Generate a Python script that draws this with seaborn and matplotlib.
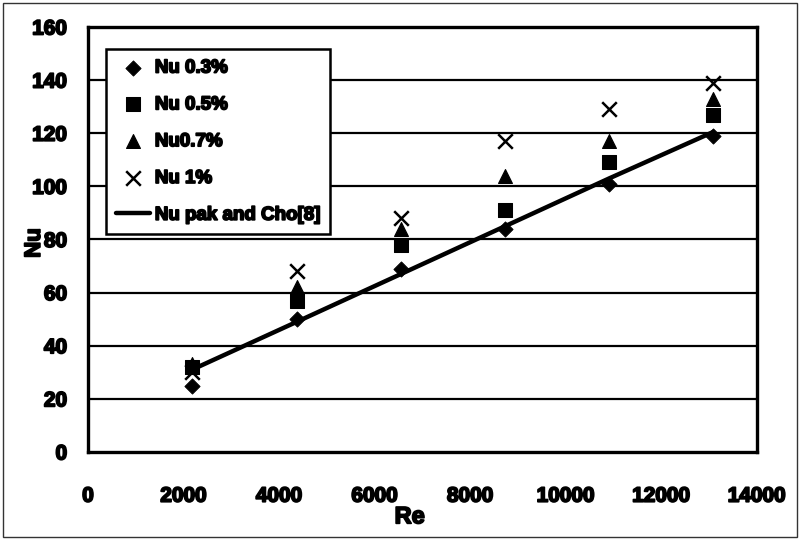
import matplotlib
matplotlib.use("Agg")
import matplotlib.pyplot as plt
import matplotlib.patches as mpatches
import matplotlib.patheffects as pe
import numpy as np
import pandas as pd
import seaborn as sns

# Reynolds numbers of the measurements
re_values = [2180, 4370, 6550, 8730, 10910, 13090]

# Nusselt numbers for each nanofluid concentration
nu_03 = [25, 50, 69, 84, 101, 119]
nu_05 = [32, 57, 78, 91, 109, 127]
nu_07 = [33, 62, 84, 104, 117, 133]
nu_1 = [30, 68, 88, 117, 129, 139]

# Pak and Cho correlation
nu_pak_cho = [31, 49, 67, 85, 103, 120.5]

series_labels = ["Nu 0.3%", "Nu 0.5%", "Nu0.7%", "Nu 1%"]
series_values = [nu_03, nu_05, nu_07, nu_1]
line_label = "Nu pak and Cho[8]"

x_ticks = [0, 2000, 4000, 6000, 8000, 10000, 12000, 14000]
y_ticks = [0, 20, 40, 60, 80, 100, 120, 140, 160]

sns.set_theme(style="white")
plt.rcParams["font.family"] = ["Liberation Sans Narrow", "Liberation Sans", "DejaVu Sans"]
plt.rcParams["font.weight"] = "bold"
plt.rcParams["text.color"] = "black"
plt.rcParams["xtick.color"] = "black"
plt.rcParams["ytick.color"] = "black"

# heavy outline to give the narrow face a bold look
heavy = [pe.withStroke(linewidth=1.3, foreground="black")]

fig = plt.figure(figsize=(8, 5.4), dpi=100)
ax = fig.add_axes([0.11, 0.163, 0.836, 0.787])

# outer frame around the whole figure
fig.patches.append(mpatches.Rectangle((0.004, 0.006), 0.992, 0.988, transform=fig.transFigure,
                                      fill=False, edgecolor="#333333", linewidth=1.0))

for yv in y_ticks[1:-1]:
    ax.axhline(yv, color="black", linewidth=1.6, zorder=1)

marker_styles = {
    "Nu 0.3%": dict(marker="D", s=60),
    "Nu 0.5%": dict(marker="s", s=90),
    "Nu0.7%": dict(marker="^", s=100),
    "Nu 1%": dict(marker="x", s=110, linewidth=1.8),
}

for label, values in zip(series_labels, series_values):
    df = pd.DataFrame({"Re": re_values, "Nu": values})
    kw = marker_styles[label]
    sns.scatterplot(data=df, x="Re", y="Nu", ax=ax, color="black", edgecolor="black",
                    label=label, zorder=4, **kw)

df_line = pd.DataFrame({"Re": re_values, "Nu": nu_pak_cho})
sns.lineplot(data=df_line, x="Re", y="Nu", ax=ax, color="black", linewidth=3.2,
             label=line_label, zorder=3)

ax.set_xlim(0, 14000)
ax.set_ylim(0, 160)
ax.set_xticks(x_ticks)
ax.set_yticks(y_ticks)
ax.set_xticklabels([str(t) for t in x_ticks], fontsize=15, fontweight="bold")
ax.set_yticklabels([str(t) for t in y_ticks], fontsize=15, fontweight="bold")
ax.tick_params(axis="both", direction="out", length=6, width=1.5, color="black")
ax.tick_params(axis="x", pad=19)
ax.tick_params(axis="y", pad=9)
for t in ax.get_xticklabels() + ax.get_yticklabels():
    t.set_path_effects(heavy)

for side in ["left", "bottom", "right", "top"]:
    ax.spines[side].set_visible(True)
    ax.spines[side].set_color("black")
    ax.spines[side].set_linewidth(2.4)

ax.set_xlabel("")
ax.set_ylabel("")
fig.text(0.512, 0.043, "Re", fontsize=17, fontweight="bold", ha="center", va="center",
         path_effects=heavy)
fig.text(0.043, 0.55, "Nu", fontsize=16, fontweight="bold", ha="center", va="center",
         rotation=90, path_effects=heavy)

leg = ax.legend(loc="upper left", bbox_to_anchor=(0.027, 0.948), borderaxespad=0,
                fancybox=False, framealpha=1, edgecolor="black",
                handlelength=1.8, handletextpad=0.25, labelspacing=1.05,
                borderpad=0.55, prop={"weight": "bold", "size": 13.5})
leg.get_frame().set_linewidth(1.8)
for t in leg.get_texts():
    t.set_path_effects(heavy)

fig.savefig("out.png", dpi=100)
